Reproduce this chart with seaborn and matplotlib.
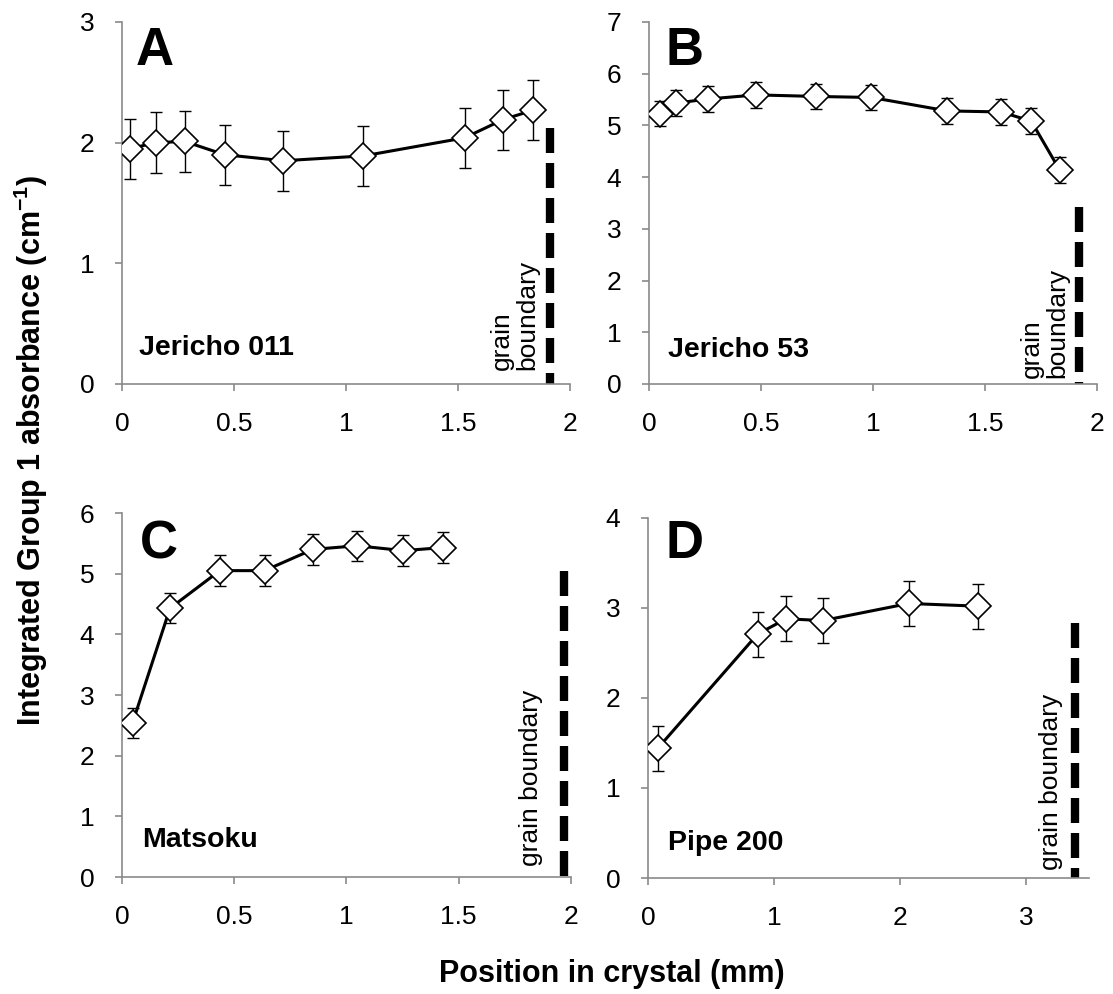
import numpy as np
import pandas as pd
import matplotlib
matplotlib.use("Agg")
import matplotlib.pyplot as plt
import seaborn as sns

# ---------------- data ----------------
A_x = [0.036, 0.15, 0.28, 0.458, 0.72, 1.078, 1.53, 1.70, 1.837]
A_y = [1.95, 2.00, 2.01, 1.90, 1.85, 1.89, 2.04, 2.19, 2.27]
A_err = [0.25, 0.25, 0.25, 0.25, 0.25, 0.25, 0.25, 0.25, 0.25]

B_x = [0.048, 0.119, 0.263, 0.479, 0.744, 0.993, 1.332, 1.573, 1.707, 1.833]
B_y = [5.23, 5.43, 5.51, 5.59, 5.56, 5.54, 5.28, 5.26, 5.08, 4.14]
B_err = [0.25, 0.25, 0.25, 0.25, 0.25, 0.25, 0.25, 0.25, 0.25, 0.25]

C_x = [0.047, 0.214, 0.436, 0.635, 0.85, 1.047, 1.254, 1.43]
C_y = [2.54, 4.43, 5.05, 5.05, 5.40, 5.46, 5.38, 5.43]
C_err = [0.25, 0.25, 0.25, 0.25, 0.25, 0.25, 0.25, 0.25]

D_x = [0.077, 0.87, 1.097, 1.388, 2.07, 2.62]
D_y = [1.44, 2.71, 2.88, 2.86, 3.05, 3.02]
D_err = [0.25, 0.25, 0.25, 0.25, 0.25, 0.25]

panel_letters = ["A", "B", "C", "D"]
sample_names = ["Jericho 011", "Jericho 53", "Matsoku", "Pipe 200"]
boundary_x = [1.91, 1.918, 1.97, 3.39]
boundary_top = [2.12, 3.43, 5.05, 2.83]
boundary_text = ["grain\nboundary", "grain\nboundary", "grain boundary", "grain boundary"]
x_limits = [2, 2, 2, 3.5]
x_steps = [0.5, 0.5, 0.5, 1]
x_tick_max = [2, 2, 2, 3]
y_limits = [3, 7, 6, 4]

x_label = "Position in crystal (mm)"
y_label = r"Integrated Group 1 absorbance (cm$^{\mathbf{-1}}$)"

# ---------------- style ----------------
sns.set_style("white")
plt.rcParams["font.family"] = ["Liberation Sans", "DejaVu Sans"]
plt.rcParams["mathtext.fontset"] = "custom"
plt.rcParams["mathtext.rm"] = "Liberation Sans"
plt.rcParams["mathtext.bf"] = "Liberation Sans:bold"
plt.rcParams["text.color"] = "black"
plt.rcParams["axes.labelcolor"] = "black"
plt.rcParams["xtick.color"] = "black"
plt.rcParams["ytick.color"] = "black"

GRAY = "#8a8a8a"

fig = plt.figure(figsize=(11.13, 9.94), dpi=100)
positions = [
    [0.1096, 0.6137, 0.4025, 0.3642],
    [0.5831, 0.6137, 0.4025, 0.3642],
    [0.1096, 0.1177, 0.4034, 0.3662],
    [0.5822, 0.1167, 0.3962, 0.3622],
]
letter_pos = [(0.03, 0.881), (0.036, 0.881), (0.04, 0.876), (0.039, 0.889)]
name_pos = [(0.038, 0.08), (0.042, 0.075), (0.044, 0.082), (0.045, 0.078)]
text_pos = [(1.865, 0.115), (1.878, 0.115), (1.876, 0.18), (3.29, 0.086)]

datasets = [(A_x, A_y, A_err), (B_x, B_y, B_err), (C_x, C_y, C_err), (D_x, D_y, D_err)]

for i, (xs, ys, es) in enumerate(datasets):
    ax = fig.add_axes(positions[i])
    df = pd.DataFrame({"x": xs, "y": ys, "err": es})
    ax.errorbar(df["x"], df["y"], yerr=df["err"], fmt="none", ecolor="black",
                elinewidth=1.0, capsize=4.5, capthick=1.0, zorder=2)
    sns.lineplot(data=df, x="x", y="y", ax=ax, color="black", linewidth=2.2,
                 marker="D", markersize=13.5, markerfacecolor="white",
                 markeredgecolor="black", markeredgewidth=1.2, zorder=3,
                 errorbar=None, sort=True)
    # grain boundary
    ax.plot([boundary_x[i], boundary_x[i]], [boundary_top[i], 0], color="black",
            linewidth=6, dashes=(3.0, 1.2), solid_capstyle="butt", zorder=2)
    tx, ty = text_pos[i]
    ax.text(tx, ty, boundary_text[i], rotation=90, ha="right", va="bottom",
            multialignment="left", fontsize=19, linespacing=1.1, color="black")

    ax.set_xlim(0, x_limits[i])
    ax.set_ylim(0, y_limits[i])
    xt = np.arange(0, x_tick_max[i] + 1e-9, x_steps[i])
    ax.set_xticks(xt)
    ax.set_yticks(np.arange(0, y_limits[i] + 1, 1))
    ax.set_xticklabels([f"{v:g}" for v in xt])
    ax.set_xlabel("")
    ax.set_ylabel("")
    for s in ["top", "right"]:
        ax.spines[s].set_visible(False)
    for s in ["left", "bottom"]:
        ax.spines[s].set_color(GRAY)
        ax.spines[s].set_linewidth(1.2)
    ax.tick_params(axis="both", which="major", direction="out", length=5,
                   width=1.2, color=GRAY, labelsize=19, pad=15, labelcolor="black",
                   left=True, bottom=True)
    ax.set_facecolor("white")

    lx, ly = letter_pos[i]
    ax.text(lx, ly, panel_letters[i], transform=ax.transAxes, fontsize=38,
            fontweight="bold", ha="left", va="baseline", color="black")
    nx, ny = name_pos[i]
    ax.text(nx, ny, sample_names[i], transform=ax.transAxes, fontsize=20.5,
            fontweight="bold", ha="left", va="baseline", color="black")

fig.text(0.028, 0.547, y_label, rotation=90, ha="center", va="center",
         fontsize=22, fontweight="bold", color="black")
fig.text(0.55, 0.012, x_label, ha="center", va="baseline", fontsize=22,
         fontweight="bold", color="black")

fig.savefig("out.png", dpi=100, facecolor="white")
